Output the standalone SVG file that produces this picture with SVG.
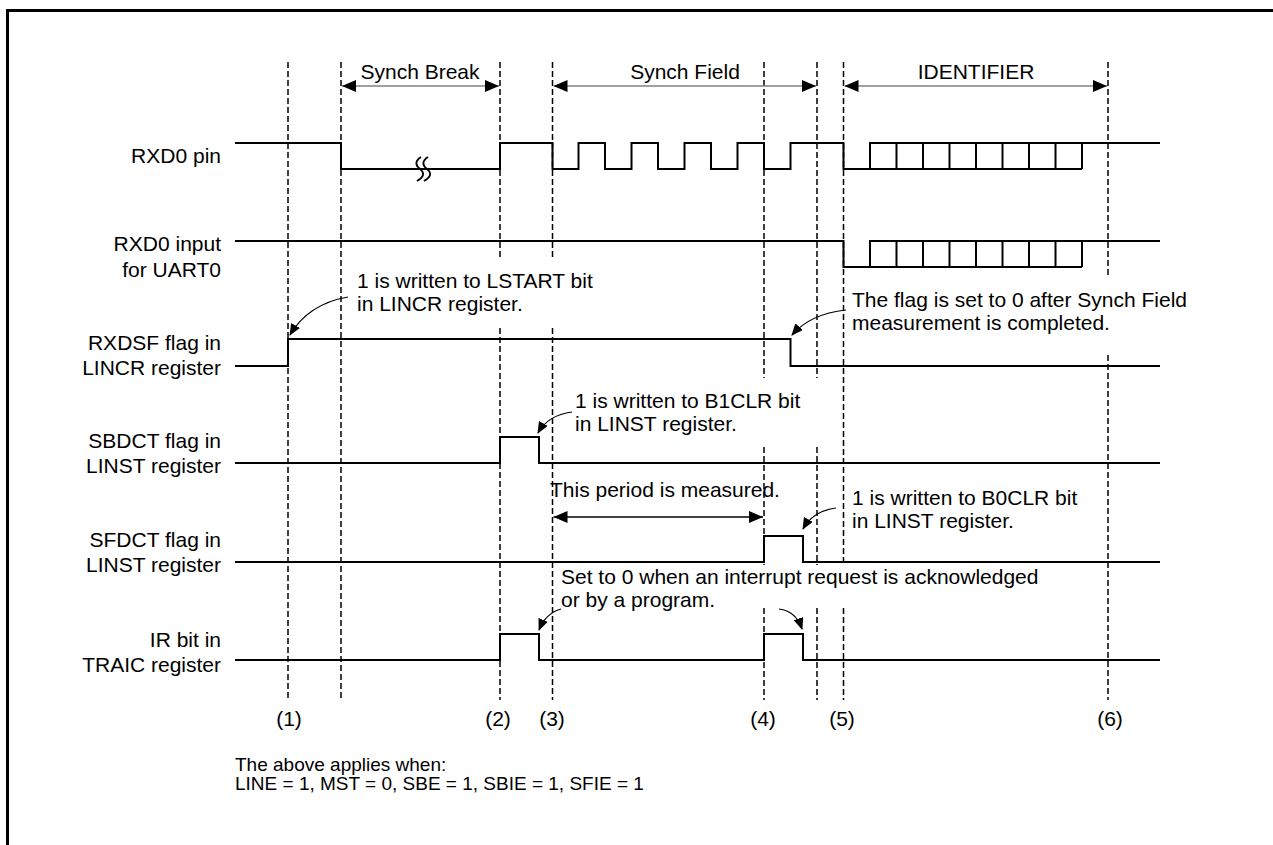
<svg xmlns="http://www.w3.org/2000/svg" width="1273" height="845" viewBox="0 0 1273 845">
<style>
text{font-family:"Liberation Sans",Arial,sans-serif;font-size:21px;fill:#000}
.lbl{text-anchor:end}
.mid{text-anchor:middle}
.foot{font-size:19px}
.sig{fill:none;stroke:#000;stroke-width:2}
.dash{fill:none;stroke:#000;stroke-width:1.5;stroke-dasharray:6 3}
.dim{fill:none;stroke:#808080;stroke-width:1.6}
.dimk{fill:none;stroke:#000;stroke-width:1.4}
.curve{fill:none;stroke:#000;stroke-width:1.2}
</style>
<defs>
<marker id="ah" markerUnits="userSpaceOnUse" markerWidth="14" markerHeight="12" refX="14" refY="6" orient="auto-start-reverse"><path d="M0,0 L14,6 L0,12 z" fill="#000"/></marker>
<marker id="ac" markerUnits="userSpaceOnUse" markerWidth="12" markerHeight="10" refX="11" refY="5" orient="auto"><path d="M0,0 L12,5 L0,10 z" fill="#000"/></marker>
</defs>
<rect width="1273" height="845" fill="#fff"/>
<path d="M7.5,845 V10.5 H1273" fill="none" stroke="#000" stroke-width="3"/>

<g id="gridlines">
<path class="dash" d="M288,62 V700"/>
<path class="dash" d="M341,62 V700"/>
<path class="dash" d="M500,62 V258 M500,328 V700"/>
<path class="dash" d="M552.5,62 V258 M552.5,328 V700"/>
<path class="dash" d="M764,62 V378 M764,447 V565 M764,608 V700"/>
<path class="dash" d="M817,62 V378 M817,447 V565 M817,608 V700"/>
<path class="dash" d="M843.5,62 V565 M843.5,608 V700"/>
<path class="dash" d="M1108,62 V275 M1108,355 V700"/>
</g>

<g id="labels">
<text class="lbl" x="221" y="163">RXD0 pin</text>
<text class="lbl" x="221" y="251">RXD0 input</text>
<text class="lbl" x="221" y="277">for UART0</text>
<text class="lbl" x="221" y="350">RXDSF flag in</text>
<text class="lbl" x="221" y="375">LINCR register</text>
<text class="lbl" x="221" y="448">SBDCT flag in</text>
<text class="lbl" x="221" y="473">LINST register</text>
<text class="lbl" x="221" y="547">SFDCT flag in</text>
<text class="lbl" x="221" y="572">LINST register</text>
<text class="lbl" x="221" y="647">IR bit in</text>
<text class="lbl" x="221" y="672">TRAIC register</text>
</g>

<g id="rxd0-pin">
<path class="sig" d="M235,143 H341 V169 H500 V143 H552.5 V169 H578.5 V143 H605 V169 H631.5 V143 H658 V169 H684.5 V143 H711 V169 H737.5 V143 H764 V169 H790.5 V143 H843.5 V169 H1082"/>
<path class="sig" d="M870,169 V143 H1160 M896.5,143 V169 M923,143 V169 M949.5,143 V169 M976,143 V169 M1002.5,143 V169 M1029,143 V169 M1055.5,143 V169 M1082,143 V169"/>
<path fill="none" stroke="#000" stroke-width="1.8" d="M421,157 c-6,4 -6,8 -1,12 c5,4 4,8 -3,12 M428,157 c-6,4 -6,8 -1,12 c5,4 4,8 -3,12"/>
</g>

<g id="rxd0-input">
<path class="sig" d="M235,241 H843.5 V267 H1082"/>
<path class="sig" d="M870,267 V241 H1160 M896.5,241 V267 M923,241 V267 M949.5,241 V267 M976,241 V267 M1002.5,241 V267 M1029,241 V267 M1055.5,241 V267 M1082,241 V267"/>
</g>

<g id="rxdsf"><path class="sig" d="M235,366 H288 V339 H790.5 V366 H1160"/></g>
<g id="sbdct"><path class="sig" d="M235,463 H500 V437 H539 V463 H1160"/></g>
<g id="sfdct"><path class="sig" d="M235,562 H764 V536 H803 V562 H1160"/></g>
<g id="ir"><path class="sig" d="M235,660 H500 V634 H539 V660 H764 V634 H803 V660 H1160"/></g>

<g id="fields">
<text class="mid" x="420" y="79">Synch Break</text>
<text class="mid" x="685" y="79">Synch Field</text>
<text class="mid" x="976" y="79">IDENTIFIER</text>
</g>

<g id="connectors">
<path class="dim" d="M342,86 H499" marker-start="url(#ah)" marker-end="url(#ah)"/>
<path class="dim" d="M553.5,86 H816" marker-start="url(#ah)" marker-end="url(#ah)"/>
<path class="dim" d="M844.5,86 H1107" marker-start="url(#ah)" marker-end="url(#ah)"/>
<path class="dimk" d="M553.5,517 H763" marker-start="url(#ah)" marker-end="url(#ah)"/>
<path class="curve" d="M348,297 Q308,304 290,335" marker-end="url(#ac)"/>
<path class="curve" d="M572,412 Q548,415 538,433" marker-end="url(#ac)"/>
<path class="curve" d="M846,310 Q810,314 792,335" marker-end="url(#ac)"/>
<path class="curve" d="M836,508 Q813,511 803,529" marker-end="url(#ac)"/>
<path class="curve" d="M561,609 Q546,613 539,630" marker-end="url(#ac)"/>
<path class="curve" d="M779,609 Q796,611 802,629" marker-end="url(#ac)"/>
</g>

<g id="notes">
<text x="357" y="288">1 is written to LSTART bit</text>
<text x="357" y="311">in LINCR register.</text>
<text x="852" y="307">The flag is set to 0 after Synch Field</text>
<text x="852" y="330">measurement is completed.</text>
<text x="575" y="408">1 is written to B1CLR bit</text>
<text x="575" y="431">in LINST register.</text>
<text x="550" y="497">This period is measured.</text>
<text x="852" y="505">1 is written to B0CLR bit</text>
<text x="852" y="528">in LINST register.</text>
<text x="561" y="584">Set to 0 when an interrupt request is acknowledged</text>
<text x="561" y="607">or by a program.</text>
</g>

<g id="markers">
<text class="mid" x="289" y="726">(1)</text>
<text class="mid" x="498" y="726">(2)</text>
<text class="mid" x="552" y="726">(3)</text>
<text class="mid" x="763" y="726">(4)</text>
<text class="mid" x="842" y="726">(5)</text>
<text class="mid" x="1110" y="726">(6)</text>
</g>

<g id="footnote">
<text class="foot" x="235" y="771">The above applies when:</text>
<text class="foot" x="235" y="790">LINE = 1, MST = 0, SBE = 1, SBIE = 1, SFIE = 1</text>
</g>
</svg>
